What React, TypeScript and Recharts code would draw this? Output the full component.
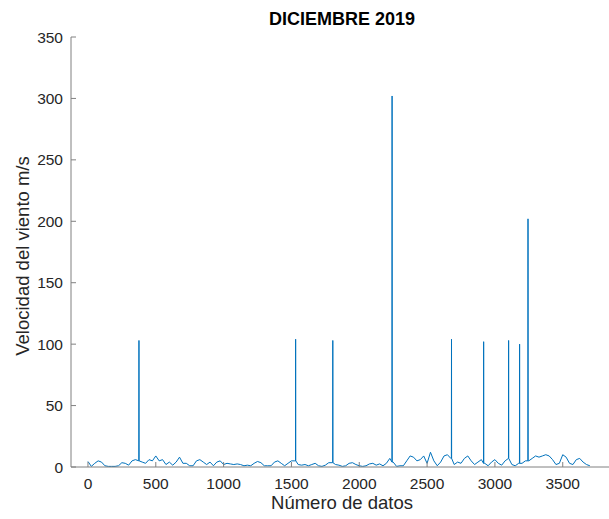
import { LineChart, Line, XAxis, YAxis } from "recharts";

// sample index (every 25 samples) -> wind speed
const sampleStep = 25;
const windSpeed = [
  4.5, 0.5, 3, 5, 4, 1, 0.5, 0.5, 0.5, 1,
  3.5, 3, 1.5, 5, 6, 5, 4, 3, 6, 5,
  9, 5, 6, 2, 4, 1.5, 4, 8, 3, 3,
  1, 1, 5, 6, 4, 2, 4, 1, 4, 5,
  2, 3, 2.5, 2, 2.5, 2, 1, 1.5, 1, 3,
  4.5, 3.5, 1, 1, 1, 4, 5, 3, 1, 3,
  5, 5, 2, 1.5, 2, 1, 2, 3, 1, 0.5,
  1.5, 3.5, 3.5, 2, 1.5, 0.5, 1, 3, 3.5, 2,
  1, 0.5, 1, 2.5, 3, 1.5, 2.5, 1, 3, 7,
  4, 0.5, 1, 1, 5, 9, 8, 5, 6, 9,
  3, 12, 5, 1, 4, 9, 10, 7, 2, 4,
  3, 7, 9, 5, 2, 4, 6, 3, 1, 4,
  6, 3, 1.5, 5, 7, 2, 1, 3, 3, 5,
  5, 7, 9, 8, 9, 10, 9, 6, 2, 3,
  10, 8, 3, 2, 6, 7, 4, 2, 1,
];

// single-sample spikes
const spikeIndex = [376, 1531, 1805, 2242, 2680, 2917, 3101, 3182, 3244];
const spikeValue = [103, 104, 103, 302, 104, 102, 103, 100, 202];

const xTicks = [0, 500, 1000, 1500, 2000, 2500, 3000, 3500];
const yTicks = [0, 50, 100, 150, 200, 250, 300, 350];

const chartTitle = "DICIEMBRE 2019";
const xTitle = "Número de datos";
const yTitle = "Velocidad del viento m/s";

const lineColor = "#0072BD";
const axisColor = "#808080";
const textColor = "#262626";
const font = "'Liberation Sans', Arial, sans-serif";

const points: { x: number; v: number }[] = windSpeed.map((v, i) => ({ x: i * sampleStep, v }));
spikeIndex.forEach((sx, i) => {
  const near = windSpeed[Math.round(sx / sampleStep)];
  points.push({ x: sx - 1, v: near }, { x: sx, v: spikeValue[i] }, { x: sx + 1, v: near });
});
const data = points.sort((a, b) => a.x - b.x);

const BottomTick = ({ x, y, payload }: any) => (
  <g>
    <line x1={x} x2={x} y1={y} y2={y - 5} stroke={axisColor} />
    <text x={x} y={y + 22} textAnchor="middle" fill={textColor} fontSize={15.5} fontFamily={font}>
      {payload.value}
    </text>
  </g>
);

const TopTick = ({ x, y }: any) => <line x1={x} x2={x} y1={y} y2={y + 5} stroke={axisColor} />;

const LeftTick = ({ x, y, payload }: any) => (
  <g>
    <line x1={x} x2={x + 5} y1={y} y2={y} stroke={axisColor} />
    <text x={x - 8} y={y + 5.5} textAnchor="end" fill={textColor} fontSize={15.5} fontFamily={font}>
      {payload.value}
    </text>
  </g>
);

const XLabel = ({ viewBox }: any) => (
  <text
    x={viewBox.x + viewBox.width / 2 - 2}
    y={viewBox.y + 42}
    textAnchor="middle"
    fill={textColor}
    fontSize={18.5}
    fontFamily={font}
  >
    {xTitle}
  </text>
);

const YLabel = ({ viewBox }: any) => {
  const cx = viewBox.x + 22;
  const cy = viewBox.y + viewBox.height / 2 + 4;
  return (
    <text
      x={cx}
      y={cy}
      transform={`rotate(-90 ${cx} ${cy})`}
      textAnchor="middle"
      dominantBaseline="central"
      fill={textColor}
      fontSize={18.5}
      fontFamily={font}
    >
      {yTitle}
    </text>
  );
};

export default function App() {
  return (
    <div style={{ position: "absolute", left: 0, top: 0, width: 609, height: 519, overflow: "hidden", background: "#fff" }}>
      <div
        style={{
          position: "absolute",
          left: 71,
          width: 542,
          top: 9,
          textAlign: "center",
          fontFamily: font,
          fontWeight: "bold",
          fontSize: 18,
          color: "#000",
        }}
      >
        {chartTitle}
      </div>
      <LineChart width={640} height={519} data={data} margin={{ top: 37, right: 23, left: 0, bottom: 0 }}>
        <XAxis
          dataKey="x"
          type="number"
          domain={[-125, 3900]}
          ticks={xTicks}
          allowDataOverflow
          height={52}
          stroke={axisColor}
          tickLine={false}
          tickSize={0}
          tickMargin={0}
          tick={<BottomTick />}
          label={<XLabel />}
        />
        <XAxis
          xAxisId="top"
          orientation="top"
          dataKey="x"
          type="number"
          domain={[-125, 3900]}
          ticks={xTicks}
          allowDataOverflow
          height={0}
          stroke={axisColor}
          tickLine={false}
          tickSize={0}
          tickMargin={0}
          tick={<TopTick />}
        />
        <YAxis
          type="number"
          domain={[0, 350]}
          ticks={yTicks}
          width={71}
          stroke={axisColor}
          tickLine={false}
          tickSize={0}
          tickMargin={0}
          tick={<LeftTick />}
          label={<YLabel />}
        />
        <Line
          dataKey="v"
          type="linear"
          stroke={lineColor}
          strokeWidth={1}
          dot={false}
          isAnimationActive={false}
        />
      </LineChart>
    </div>
  );
}
